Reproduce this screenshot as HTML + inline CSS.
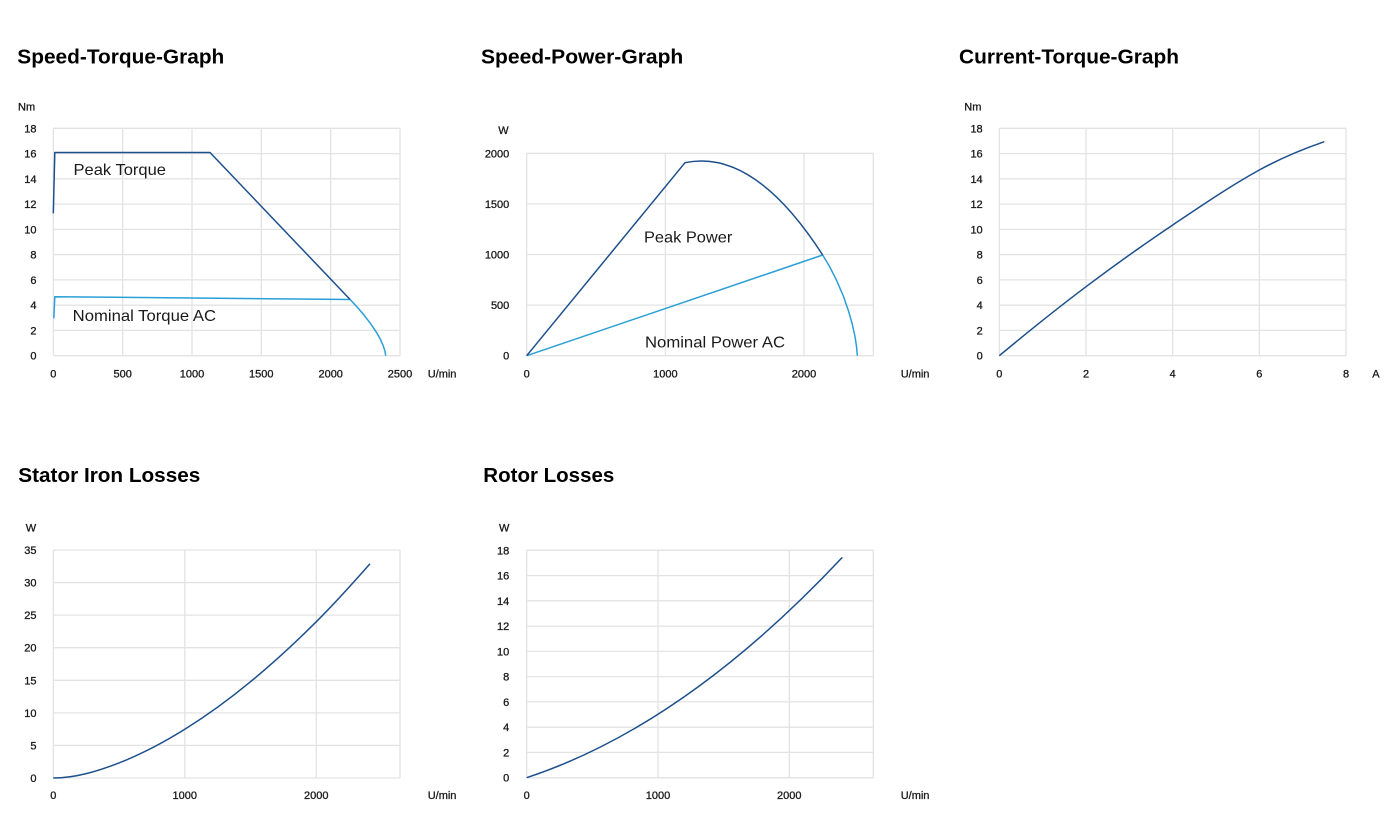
<!DOCTYPE html>
<html>
<head>
<meta charset="utf-8">
<style>
  html,body{margin:0;padding:0;background:#fff;}
  svg{display:block;}
  .t{font-family:"Liberation Sans",Arial,sans-serif;font-weight:bold;font-size:20px;fill:#000;}
  .k{font-family:"Liberation Sans",Arial,sans-serif;font-size:11px;fill:#1a1a1a;stroke:#1a1a1a;stroke-width:0.3;}
  .ky{text-anchor:end;}
  .kx{text-anchor:middle;}
  .l{font-family:"Liberation Sans",Arial,sans-serif;font-size:16px;fill:#1a1a1a;}
  .g{stroke:#e3e3e3;stroke-width:1.3;fill:none;}
  .d{stroke:#1c4f8c;stroke-width:1.5;fill:none;stroke-linejoin:round;}
  .c{stroke:#2a9fd6;stroke-width:1.5;fill:none;stroke-linejoin:round;}
</style>
</head>
<body>
<svg width="1390" height="827" viewBox="0 0 1390 827" xmlns="http://www.w3.org/2000/svg">
<rect width="1390" height="827" fill="#fff"/>

<!-- ============ Chart 1: Speed-Torque ============ -->
<text class="t" x="17.3" y="63.3" textLength="207" lengthAdjust="spacingAndGlyphs">Speed-Torque-Graph</text>
<text class="k" x="18" y="110.5">Nm</text>
<g class="g">
  <path d="M53.3 128.3H400M53.3 153.6H400M53.3 178.8H400M53.3 204.1H400M53.3 229.4H400M53.3 254.6H400M53.3 279.9H400M53.3 305.2H400M53.3 330.4H400M53.3 355.7H400"/>
  <path d="M53.3 128.3V355.7M122.7 128.3V355.7M192 128.3V355.7M261.3 128.3V355.7M330.7 128.3V355.7M400 128.3V355.7"/>
</g>
<g class="k ky">
  <text x="36.5" y="132.3">18</text><text x="36.5" y="157.6">16</text><text x="36.5" y="182.8">14</text>
  <text x="36.5" y="208.1">12</text><text x="36.5" y="233.4">10</text><text x="36.5" y="258.6">8</text>
  <text x="36.5" y="283.9">6</text><text x="36.5" y="309.2">4</text><text x="36.5" y="334.4">2</text>
  <text x="36.5" y="359.7">0</text>
</g>
<g class="k kx">
  <text x="53.3" y="377.5">0</text><text x="122.7" y="377.5">500</text><text x="192" y="377.5">1000</text>
  <text x="261.3" y="377.5">1500</text><text x="330.7" y="377.5">2000</text><text x="400" y="377.5">2500</text>
</g>
<text class="k" x="427.7" y="377.5">U/min</text>
<path class="c" d="M53.8 318.3L54.8 296.7L350.1 299.5"/>
<path class="c" d="M350.1 299.5L357.2 307.1L364.3 315.4L371.4 324.7L376.8 332.9L380.4 339.3L383.2 345.7L385 351.3L385.7 355.7"/>
<path class="d" d="M53.3 213.3L54.8 152.5L210 152.5L350.1 299.5"/>
<text class="l" x="73.5" y="175" textLength="92.5" lengthAdjust="spacingAndGlyphs">Peak Torque</text>
<text class="l" x="72.7" y="321" textLength="143.3" lengthAdjust="spacingAndGlyphs">Nominal Torque AC</text>

<!-- ============ Chart 2: Speed-Power ============ -->
<text class="t" x="481" y="63.3" textLength="202.3" lengthAdjust="spacingAndGlyphs">Speed-Power-Graph</text>
<text class="k" x="498.3" y="134">W</text>
<g class="g">
  <path d="M526.7 153.3H873.3M526.7 203.9H873.3M526.7 254.5H873.3M526.7 305.1H873.3M526.7 355.7H873.3"/>
  <path d="M526.7 153.3V355.7M665.4 153.3V355.7M804 153.3V355.7M873.3 153.3V355.7"/>
</g>
<g class="k ky">
  <text x="509.3" y="157.3">2000</text><text x="509.3" y="207.9">1500</text><text x="509.3" y="258.5">1000</text>
  <text x="509.3" y="309.1">500</text><text x="509.3" y="359.7">0</text>
</g>
<g class="k kx">
  <text x="526.7" y="377.5">0</text><text x="665.4" y="377.5">1000</text><text x="804" y="377.5">2000</text>
</g>
<text class="k" x="900.7" y="377.5">U/min</text>
<path class="c" d="M526.7 355.7L822.7 255"/>
<path class="c" d="M822.7 255L829.6 266.6L836.5 280.2L843.5 296.5L848.6 311.3L852.1 323.5L854.9 336L856.6 346.9L857.3 355.7"/>
<path class="d" d="M526.7 355.7L685 162.7Q753.85 148.2 822.7 255"/>
<text class="l" x="644" y="242.7" textLength="88.3" lengthAdjust="spacingAndGlyphs">Peak Power</text>
<text class="l" x="645" y="347.7" textLength="140" lengthAdjust="spacingAndGlyphs">Nominal Power AC</text>

<!-- ============ Chart 3: Current-Torque ============ -->
<text class="t" x="959" y="63.3" textLength="220" lengthAdjust="spacingAndGlyphs">Current-Torque-Graph</text>
<text class="k" x="964.3" y="110.5">Nm</text>
<g class="g">
  <path d="M999.3 128.3H1346M999.3 153.6H1346M999.3 178.8H1346M999.3 204.1H1346M999.3 229.4H1346M999.3 254.6H1346M999.3 279.9H1346M999.3 305.2H1346M999.3 330.4H1346M999.3 355.7H1346"/>
  <path d="M999.3 128.3V355.7M1086 128.3V355.7M1172.7 128.3V355.7M1259.3 128.3V355.7M1346 128.3V355.7"/>
</g>
<g class="k ky">
  <text x="982.7" y="132.3">18</text><text x="982.7" y="157.6">16</text><text x="982.7" y="182.8">14</text>
  <text x="982.7" y="208.1">12</text><text x="982.7" y="233.4">10</text><text x="982.7" y="258.6">8</text>
  <text x="982.7" y="283.9">6</text><text x="982.7" y="309.2">4</text><text x="982.7" y="334.4">2</text>
  <text x="982.7" y="359.7">0</text>
</g>
<g class="k kx">
  <text x="999.3" y="377.5">0</text><text x="1086" y="377.5">2</text><text x="1172.7" y="377.5">4</text>
  <text x="1259.3" y="377.5">6</text><text x="1346" y="377.5">8</text>
</g>
<text class="k" x="1372.3" y="377.5">A</text>
<path class="d" d="M999.3 355.7C1028.2 331.7 1057.1 308.5 1086 286.7C1114.9 264.9 1143.8 244.45 1172.7 225C1201.6 205.55 1230.4 185.9 1259.3 170C1281 158.1 1302.65 149.2 1324.3 141.7"/>

<!-- ============ Chart 4: Stator Iron Losses ============ -->
<text class="t" x="18.3" y="482" textLength="182" lengthAdjust="spacingAndGlyphs">Stator Iron Losses</text>
<text class="k" x="25.7" y="531.7">W</text>
<g class="g">
  <path d="M53.3 550H400M53.3 582.6H400M53.3 615.1H400M53.3 647.7H400M53.3 680.3H400M53.3 712.9H400M53.3 745.4H400M53.3 778H400"/>
  <path d="M53.3 550V778M184.8 550V778M316.3 550V778M400 550V778"/>
</g>
<g class="k ky">
  <text x="36.5" y="554">35</text><text x="36.5" y="586.6">30</text><text x="36.5" y="619.1">25</text>
  <text x="36.5" y="651.7">20</text><text x="36.5" y="684.3">15</text><text x="36.5" y="716.9">10</text>
  <text x="36.5" y="749.4">5</text><text x="36.5" y="782">0</text>
</g>
<g class="k kx">
  <text x="53.3" y="799">0</text><text x="184.8" y="799">1000</text><text x="316.3" y="799">2000</text>
</g>
<text class="k" x="427.7" y="799">U/min</text>
<path class="d" d="M53.3 778C75.2 778 97.13 771.4 119.05 762.9C140.97 754.4 162.88 742.96 184.8 729.3C206.72 715.64 228.63 699.73 250.55 681.7C272.47 663.67 294.38 643.64 316.3 621.7C334.18 603.79 352.12 584.03 370 563.7"/>

<!-- ============ Chart 5: Rotor Losses ============ -->
<text class="t" x="483.3" y="482" textLength="131" lengthAdjust="spacingAndGlyphs">Rotor Losses</text>
<text class="k" x="499" y="531.7">W</text>
<g class="g">
  <path d="M526.7 550.3H873.3M526.7 575.6H873.3M526.7 600.8H873.3M526.7 626.1H873.3M526.7 651.4H873.3M526.7 676.6H873.3M526.7 701.9H873.3M526.7 727.2H873.3M526.7 752.4H873.3M526.7 777.7H873.3"/>
  <path d="M526.7 550.3V777.7M658 550.3V777.7M789.3 550.3V777.7M873.3 550.3V777.7"/>
</g>
<g class="k ky">
  <text x="509.3" y="554.3">18</text><text x="509.3" y="579.6">16</text><text x="509.3" y="604.8">14</text>
  <text x="509.3" y="630.1">12</text><text x="509.3" y="655.4">10</text><text x="509.3" y="680.6">8</text>
  <text x="509.3" y="705.9">6</text><text x="509.3" y="731.2">4</text><text x="509.3" y="756.4">2</text>
  <text x="509.3" y="781.7">0</text>
</g>
<g class="k kx">
  <text x="526.7" y="799">0</text><text x="658" y="799">1000</text><text x="789.3" y="799">2000</text>
</g>
<text class="k" x="900.7" y="799">U/min</text>
<path class="d" d="M526.7 777.7Q684.5 725.6 842.3 557.4"/>

</svg>
</body>
</html>
